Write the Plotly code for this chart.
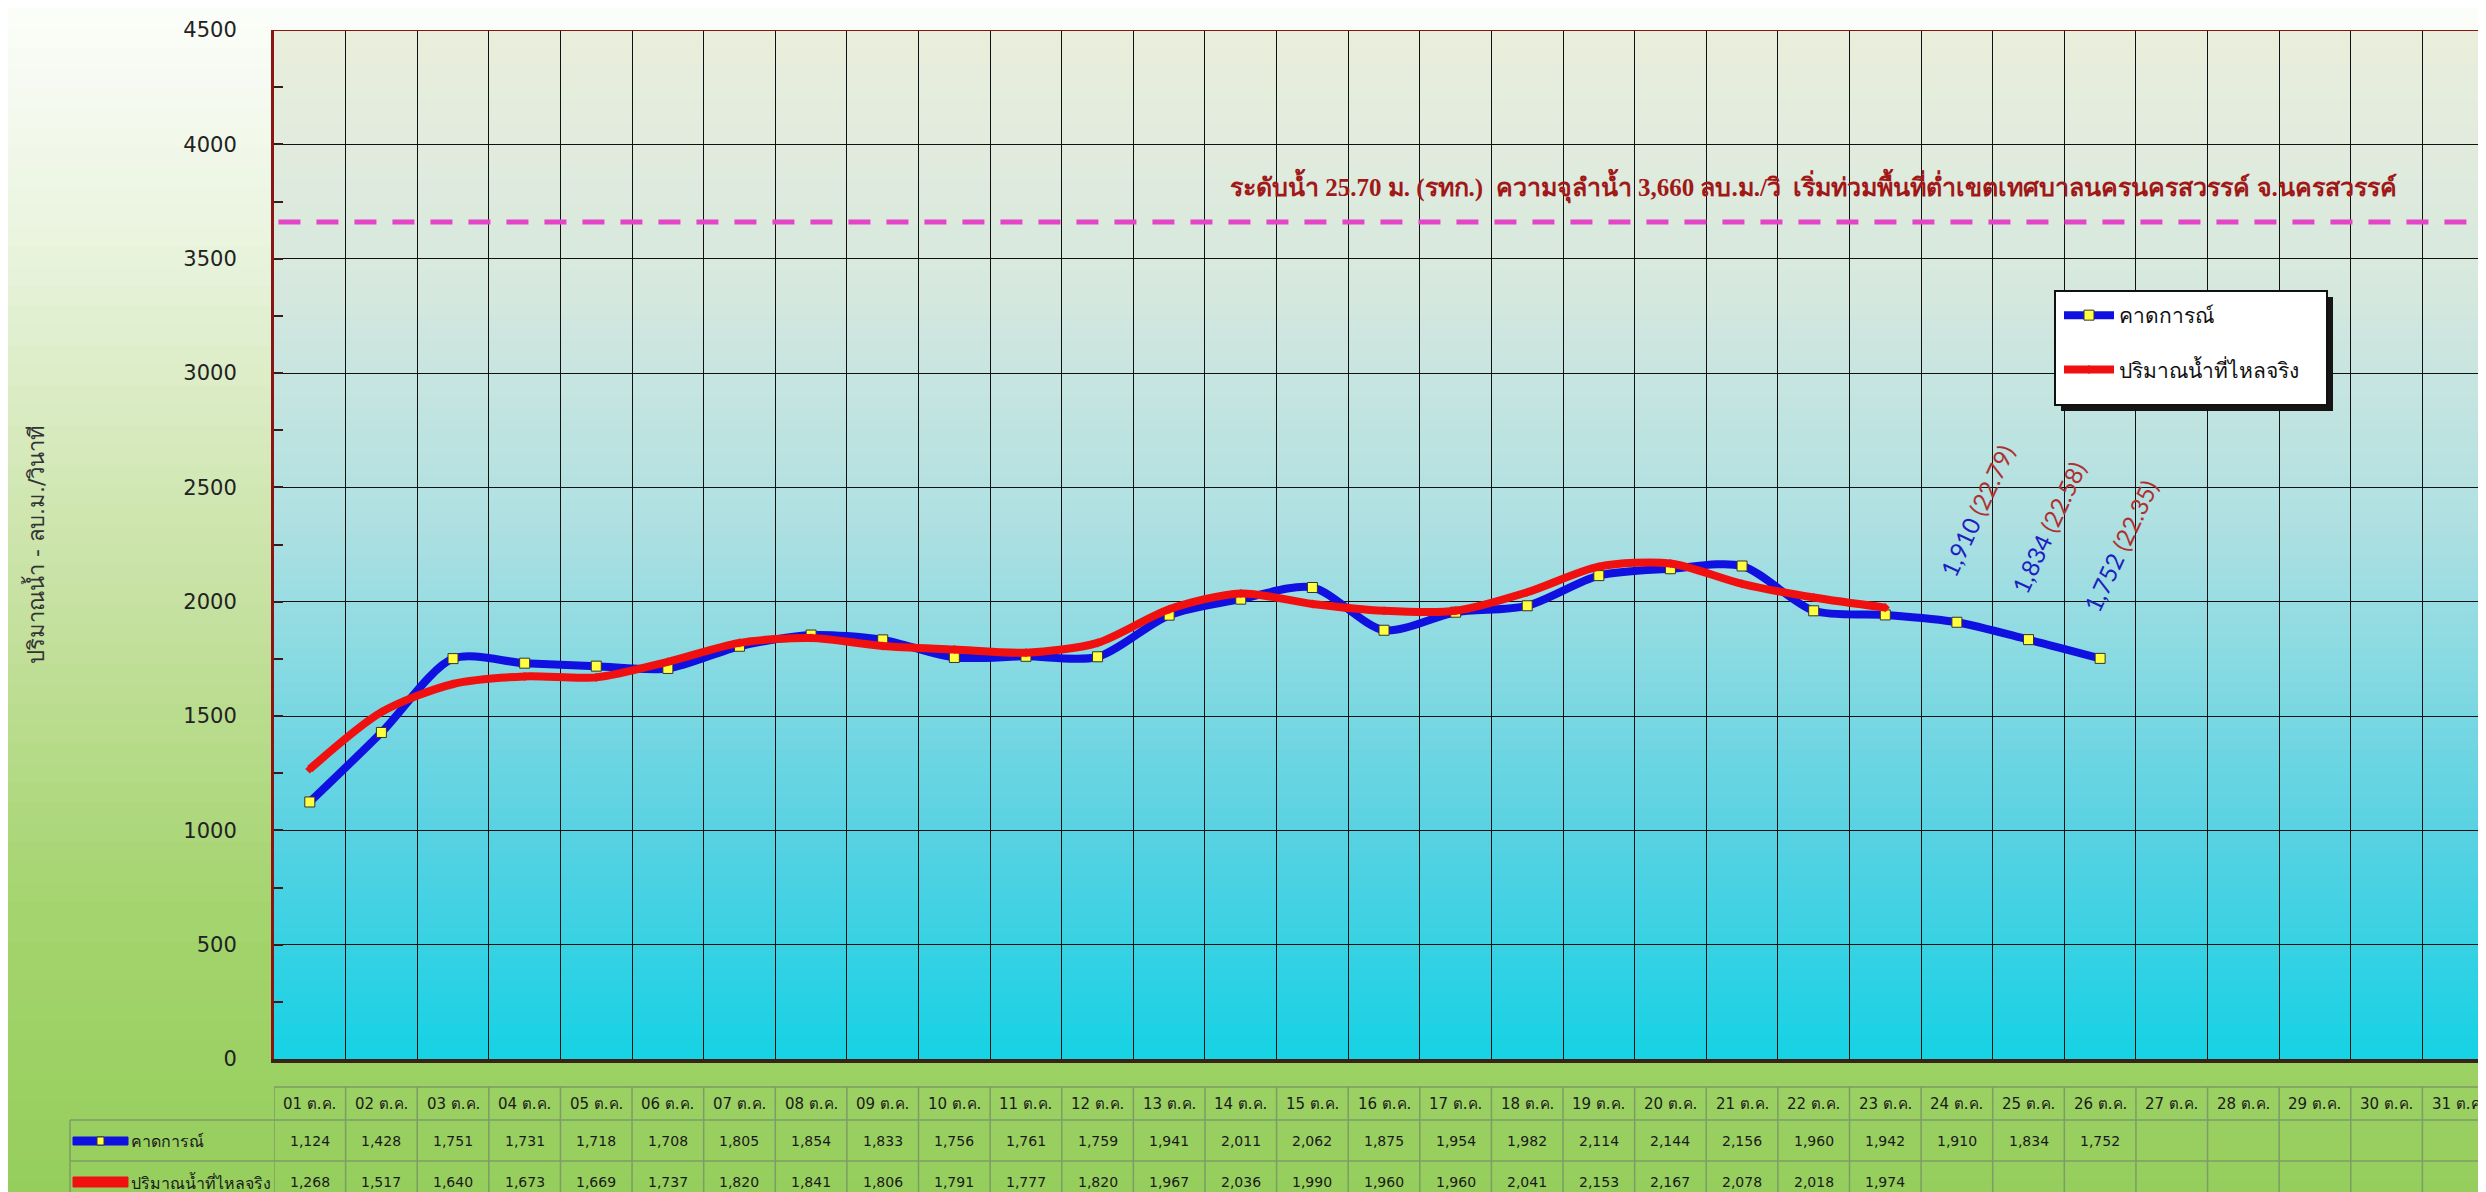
import plotly.graph_objects as go

# ---------------- data ----------------
days = [f"{i:02d} ต.ค." for i in range(1, 32)]
forecast = [1124, 1428, 1751, 1731, 1718, 1708, 1805, 1854, 1833, 1756, 1761, 1759, 1941,
            2011, 2062, 1875, 1954, 1982, 2114, 2144, 2156, 1960, 1942, 1910, 1834, 1752]
actual = [1268, 1517, 1640, 1673, 1669, 1737, 1820, 1841, 1806, 1791, 1777, 1820, 1967,
          2036, 1990, 1960, 1960, 2041, 2153, 2167, 2078, 2018, 1974]
label_days = ["24 ต.ค.", "25 ต.ค.", "26 ต.ค."]
label_flow = [1910, 1834, 1752]
label_level = ["22.79", "22.58", "22.35"]
threshold = 3660
threshold_text = ("ระดับน้ำ 25.70 ม. (รทก.)  ความจุลำน้ำ 3,660 ลบ.ม./วิ  "
                  "เริ่มท่วมพื้นที่ต่ำเขตเทศบาลนครนครสวรรค์ จ.นครสวรรค์")
name_fc = "คาดการณ์"
name_ac = "ปริมาณน้ำที่ไหลจริง"
y_title = "ปริมาณน้ำ - ลบ.ม./วินาที"
y_max = 4500

W, H = 2486, 1192
ML, MR, MT, MB = 266, 0, 22, 141
PW, PH = W - ML - MR, H - MT - MB


def px_x(p):  # pixel -> paper x
    return (p - ML) / PW


def px_y(p):  # pixel -> paper y
    return (H - MB - p) / PH


def lerp_stops(stops, t):
    for (t0, c0), (t1, c1) in zip(stops[:-1], stops[1:]):
        if t0 <= t <= t1:
            f = (t - t0) / (t1 - t0) if t1 > t0 else 0
            return tuple(round(a + (b - a) * f) for a, b in zip(c0, c1))
    return stops[-1][1]


shapes = []

# paper gradient (pixel y from top)
paper_stops = [(0, (252, 253, 250)), (250, (232, 243, 220)), (600, (198, 225, 160)),
               (900, (164, 212, 110)), (1192, (150, 206, 92))]
nb = 60
for i in range(nb):
    y0p = H * i / nb
    y1p = H * (i + 1) / nb + 1
    c = lerp_stops(paper_stops, (y0p + y1p) / 2)
    shapes.append(dict(type="rect", xref="paper", yref="paper", layer="below",
                       x0=px_x(0), x1=px_x(W), y0=px_y(y1p), y1=px_y(y0p),
                       fillcolor=f"rgb{c}", line=dict(width=0)))

# plot area gradient (fraction of height from bottom)
plot_stops = [(0.0, (22, 210, 229)), (0.227, (90, 210, 226)), (0.518, (174, 224, 226)),
              (0.75, (214, 232, 222)), (1.0, (234, 238, 220))]
nb2 = 90
for i in range(nb2):
    f0, f1 = i / nb2, (i + 1) / nb2
    c = lerp_stops(plot_stops, (f0 + f1) / 2)
    shapes.append(dict(type="rect", xref="paper", yref="y", layer="below",
                       x0=0, x1=1, y0=f0 * y_max, y1=min(f1 * y_max + 8, y_max),
                       fillcolor=f"rgb{c}", line=dict(width=0)))

# threshold line
shapes.append(dict(type="line", xref="paper", yref="y", x0=0.002, x1=1, y0=threshold, y1=threshold,
                   line=dict(color="#E444C6", width=5, dash="22px,16px")))
# top border
shapes.append(dict(type="line", xref="paper", yref="y", x0=0, x1=1, y0=y_max, y1=y_max,
                   line=dict(color="#8B1414", width=2)))

# legend box with shadow
lx0, lx1, ly0, ly1 = 2047, 2319, 283, 397
shapes.append(dict(type="rect", xref="paper", yref="paper", layer="above",
                   x0=px_x(lx0 + 6), x1=px_x(lx1 + 6), y0=px_y(ly1 + 6), y1=px_y(ly0 + 6),
                   fillcolor="#151515", line=dict(width=0)))
shapes.append(dict(type="rect", xref="paper", yref="paper", layer="above",
                   x0=px_x(lx0), x1=px_x(lx1), y0=px_y(ly1), y1=px_y(ly0),
                   fillcolor="#FFFFFF", line=dict(color="#111111", width=2)))

# table grid
tcol = "#7d9c66"
row_tops = [1079, 1112, 1153]
shapes.append(dict(type="line", xref="paper", yref="paper", x0=0, x1=1,
                   y0=px_y(row_tops[0]), y1=px_y(row_tops[0]), line=dict(color=tcol, width=1.5)))
for ry in row_tops[1:]:
    shapes.append(dict(type="line", xref="paper", yref="paper", x0=px_x(62), x1=1,
                       y0=px_y(ry), y1=px_y(ry), line=dict(color=tcol, width=1.5)))
shapes.append(dict(type="line", xref="paper", yref="paper", x0=px_x(62), x1=px_x(62),
                   y0=px_y(row_tops[1]), y1=px_y(H + 5), line=dict(color=tcol, width=1.5)))
for i in range(len(days) + 1):
    shapes.append(dict(type="line", xref="x", yref="paper", x0=i - 0.5, x1=i - 0.5,
                       y0=px_y(row_tops[0]), y1=px_y(H + 5), line=dict(color=tcol, width=1.5)))

# table legend icons
icon_y = [1133, 1174]
shapes.append(dict(type="rect", xref="paper", yref="paper",
                   x0=px_x(65), x1=px_x(120), y0=px_y(icon_y[0] + 4), y1=px_y(icon_y[0] - 4),
                   fillcolor="#1010E0", line=dict(color="#1010E0", width=1)))
shapes.append(dict(type="rect", xref="paper", yref="paper",
                   x0=px_x(89), x1=px_x(96), y0=px_y(icon_y[0] + 4), y1=px_y(icon_y[0] - 4),
                   fillcolor="#FFFF40", line=dict(color="#333", width=1)))
shapes.append(dict(type="rect", xref="paper", yref="paper",
                   x0=px_x(65), x1=px_x(120), y0=px_y(icon_y[1] + 5), y1=px_y(icon_y[1] - 5),
                   fillcolor="#F01010", line=dict(color="#F01010", width=1)))

annotations = []
# threshold text
annotations.append(dict(xref="paper", yref="paper", x=px_x(1805), y=px_y(178),
                        text=f"<b>{threshold_text}</b>", showarrow=False,
                        font=dict(family="Liberation Serif, serif", size=25, color="#A01818"),
                        xanchor="center", yanchor="middle"))
# y axis title
annotations.append(dict(xref="paper", yref="paper", x=px_x(27), y=px_y(537),
                        text=y_title, showarrow=False, textangle=-90,
                        font=dict(family="DejaVu Sans, sans-serif", size=22, color="#333333"),
                        xanchor="center", yanchor="middle"))
# rotated data labels
for d, v, lv in zip(label_days, label_flow, label_level):
    annotations.append(dict(xref="x", yref="y", x=d, y=v, xshift=20, yshift=112,
                            text=f"<span style='color:#2020C0'>{v:,}</span> "
                                 f"<span style='color:#B03030'>({lv})</span>",
                            showarrow=False, textangle=-65,
                            font=dict(family="Lato, sans-serif", size=24),
                            xanchor="center", yanchor="middle"))
# table text
hfont = dict(family="DejaVu Sans, Tahoma, sans-serif", size=15, color="#1a1a1a")
tfont = dict(family="DejaVu Sans, Tahoma, sans-serif", size=14, color="#1a1a1a")
lfont = dict(family="DejaVu Sans, Tahoma, sans-serif", size=16, color="#1a1a1a")
row_y = [px_y(1096), px_y(1133), px_y(1174)]
for i, d in enumerate(days):
    annotations.append(dict(xref="x", yref="paper", x=d, y=row_y[0], text=d, showarrow=False,
                            font=hfont, xanchor="center", yanchor="middle"))
for d, v in zip(days, forecast):
    annotations.append(dict(xref="x", yref="paper", x=d, y=row_y[1], text=f"{v:,}", showarrow=False,
                            font=tfont, xanchor="center", yanchor="middle"))
for d, v in zip(days, actual):
    annotations.append(dict(xref="x", yref="paper", x=d, y=row_y[2], text=f"{v:,}", showarrow=False,
                            font=tfont, xanchor="center", yanchor="middle"))
annotations.append(dict(xref="paper", yref="paper", x=px_x(121), y=row_y[1], text=name_fc,
                        showarrow=False, font=lfont, xanchor="left", yanchor="middle"))
annotations.append(dict(xref="paper", yref="paper", x=px_x(121), y=row_y[2], text=name_ac,
                        showarrow=False, font=lfont, xanchor="left", yanchor="middle"))

fig = go.Figure()
fig.add_trace(go.Scatter(x=days[:len(forecast)], y=forecast, name=name_fc, mode="lines+markers",
                         line=dict(color="#1010E0", width=8, shape="spline", smoothing=0.8),
                         marker=dict(symbol="square", size=10, color="#FFFF40",
                                     line=dict(color="#333333", width=1)),
                         legendgroup="a", cliponaxis=False))
fig.add_trace(go.Scatter(x=days[:len(actual)], y=actual, name=name_ac, mode="lines+markers",
                         line=dict(color="#F01010", width=8, shape="spline", smoothing=0.8),
                         marker=dict(symbol="diamond", size=7, color="#F01010"),
                         legendgroup="b", cliponaxis=False))

fig.update_layout(
    width=W, height=H,
    margin=dict(l=ML, r=MR, t=MT, b=MB, pad=0),
    paper_bgcolor="rgb(150,206,92)",
    plot_bgcolor="rgba(0,0,0,0)",
    showlegend=True,
    legend=dict(x=px_x(lx0 + 4), y=px_y(ly0 + 4), xanchor="left", yanchor="top",
                bgcolor="rgba(0,0,0,0)", borderwidth=0,
                font=dict(family="DejaVu Sans, Tahoma, sans-serif", size=21, color="#111111"),
                tracegroupgap=24, itemwidth=50),
    shapes=shapes,
    annotations=annotations,
    xaxis=dict(type="category", categoryorder="array", categoryarray=days,
               range=[-0.5, len(days) - 0.5], tickson="boundaries",
               showgrid=True, gridcolor="#111111", gridwidth=1.2,
               showticklabels=False, ticks="", showline=True, linecolor="#3b2314",
               linewidth=4, zeroline=False, fixedrange=True),
    yaxis=dict(range=[0, y_max], dtick=500, tick0=0, showgrid=True, gridcolor="#111111",
               gridwidth=1.2, zeroline=False, showline=True, linecolor="#8B1414", linewidth=3,
               ticks="inside", ticklen=9, tickcolor="#3a1a1a", tickwidth=2,
               minor=dict(dtick=250, ticks="inside", ticklen=9, tickcolor="#3a1a1a",
                          tickwidth=2, showgrid=False),
               tickfont=dict(family="DejaVu Sans, Verdana, sans-serif", size=21, color="#222222"),
               ticklabelstandoff=30, fixedrange=True),
)

fig.write_html("out.html")
